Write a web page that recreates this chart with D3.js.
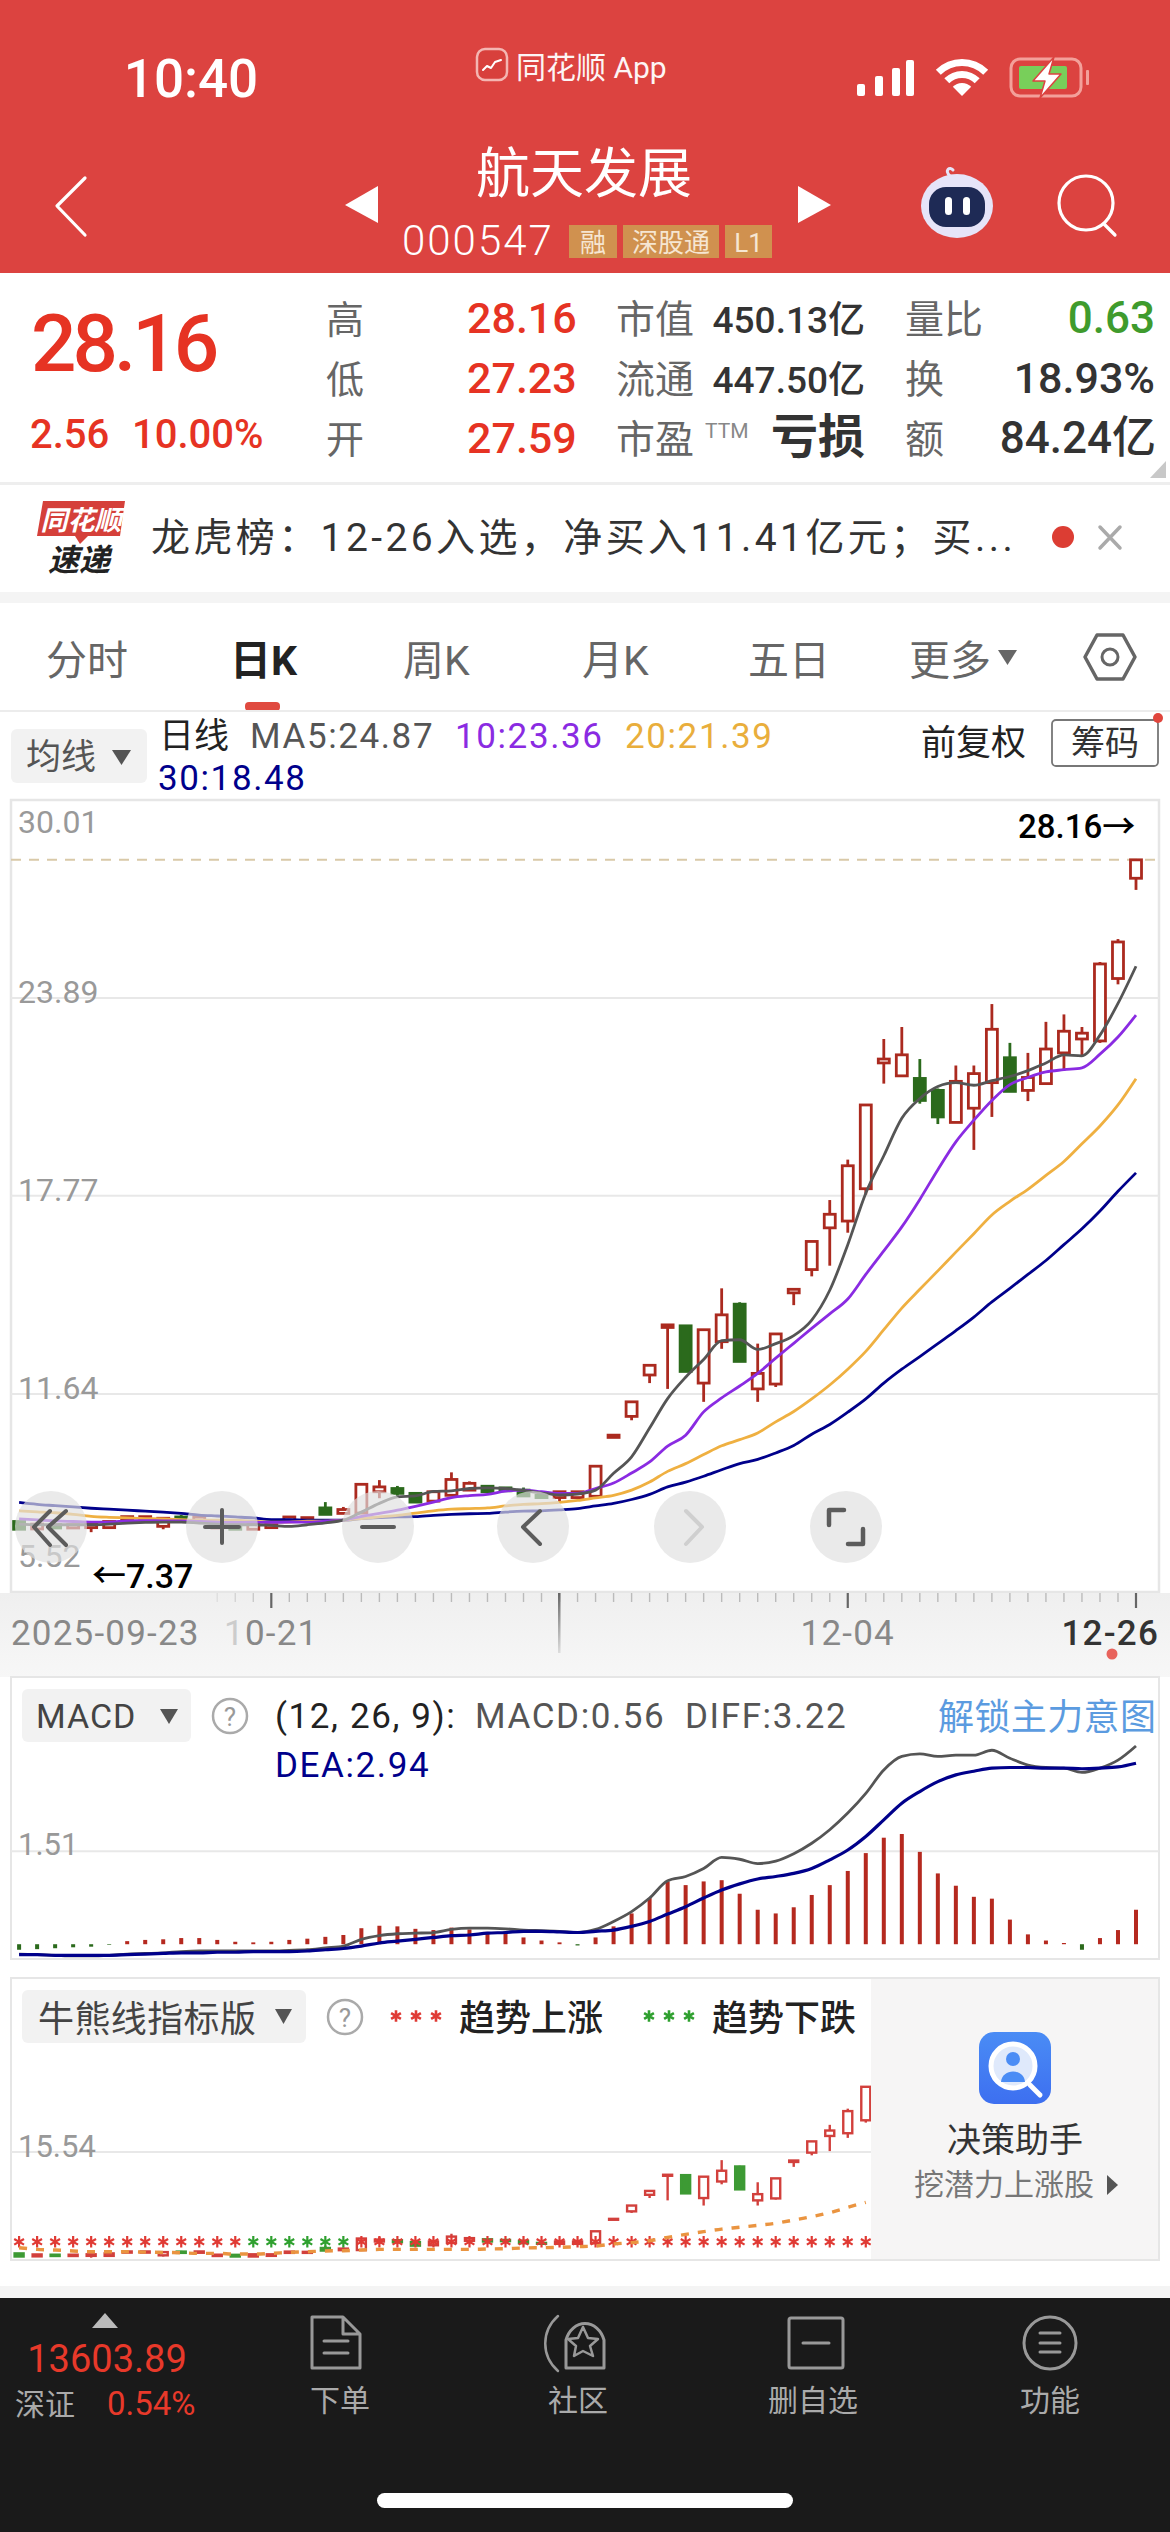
<!DOCTYPE html>
<html>
<head>
<meta charset="utf-8">
<script src="https://cdn.jsdelivr.net/npm/d3@7"></script>
<style>
html,body{margin:0;padding:0;background:#fff;}
svg{display:block;font-family:Roboto,"Noto Sans CJK SC",sans-serif;}
</style>
</head>
<body>
<svg id="chart" width="1170" height="2532"></svg>
<script>
var tradeDates = ["09-23","09-24","09-25","09-26","09-29","09-30","10-09","10-10","10-13","10-14","10-15","10-16","10-17","10-20","10-21","10-22","10-23","10-24","10-27","10-28","10-29","10-30","10-31","11-03","11-04","11-05","11-06","11-07","11-10","11-11","11-12","11-13","11-14","11-17","11-18","11-19","11-20","11-21","11-24","11-25","11-26","11-27","11-28","12-01","12-02","12-03","12-04","12-05","12-08","12-09","12-10","12-11","12-12","12-15","12-16","12-17","12-18","12-19","12-22","12-23","12-24","12-25","12-26"];

var opens = [7.70,7.47,7.60,7.50,7.51,7.51,7.76,7.76,7.55,7.84,7.75,7.50,7.59,7.46,7.51,7.74,7.74,8.12,7.95,7.96,8.62,8.72,8.57,8.33,8.51,8.67,8.79,8.74,8.67,8.51,8.44,8.44,8.48,10.30,10.95,12.23,13.70,13.75,11.98,13.26,14.42,11.80,11.95,14.77,15.49,16.78,16.99,17.99,21.88,21.48,21.40,21.03,20.04,20.48,21.27,22.04,21.03,21.24,22.19,22.62,22.56,24.49,27.59];
var closes = [7.46,7.62,7.50,7.60,7.63,7.70,7.85,7.85,7.80,7.74,7.85,7.60,7.46,7.63,7.63,7.84,7.82,7.92,8.07,8.85,8.77,8.57,8.30,8.62,9.00,8.88,8.62,8.65,8.49,8.44,8.62,8.62,9.41,10.37,11.40,12.53,13.78,12.34,13.63,14.09,12.65,12.28,13.50,14.88,16.36,17.20,18.70,20.58,22.00,22.13,20.72,20.21,21.31,21.55,22.92,21.00,21.43,22.31,22.86,22.80,24.94,25.62,28.16];
var highs = [7.70,7.62,7.60,7.60,7.63,7.70,7.85,7.85,7.80,7.90,7.85,7.60,7.59,7.63,7.63,7.84,7.82,8.30,8.15,8.85,8.98,8.80,8.60,8.62,9.22,8.94,8.79,8.74,8.75,8.55,8.62,8.62,9.41,10.37,11.40,12.53,13.78,13.75,13.63,14.91,14.48,13.20,13.50,14.88,16.36,17.64,18.89,20.58,22.62,22.99,22.00,21.09,21.80,21.80,23.70,22.50,22.19,23.15,23.38,22.99,25.00,25.71,28.16];
var lows = [7.46,7.47,7.50,7.50,7.37,7.51,7.76,7.76,7.46,7.74,7.75,7.50,7.46,7.46,7.51,7.74,7.74,7.92,7.95,7.96,8.42,8.50,8.30,8.33,8.51,8.67,8.62,8.65,8.49,8.42,8.33,8.44,8.48,10.30,10.83,11.98,11.80,12.34,11.40,13.04,12.65,11.40,11.86,14.39,15.28,15.61,16.63,17.81,21.24,21.48,20.62,19.99,20.04,19.19,20.21,21.00,20.70,21.21,21.64,22.07,22.50,24.31,27.23];

var ma5 = [7.62,7.60,7.60,7.60,7.60,7.62,7.65,7.67,7.68,7.68,7.65,7.62,7.60,7.60,7.58,7.55,7.60,7.66,7.74,7.99,8.26,8.46,8.49,8.63,8.65,8.72,8.74,8.72,8.66,8.58,8.52,8.55,8.67,9.19,9.70,10.59,11.50,12.16,12.71,13.29,13.32,13.02,13.20,13.45,13.93,14.85,16.26,17.85,19.01,20.17,20.78,21.15,21.27,21.19,21.33,21.46,21.64,21.88,22.13,22.10,22.74,23.72,24.87];
var ma10 = [7.78,7.75,7.72,7.70,7.68,7.68,7.72,7.73,7.72,7.72,7.70,7.68,7.67,7.68,7.67,7.68,7.68,7.71,7.74,7.86,7.95,8.05,8.17,8.30,8.44,8.50,8.54,8.64,8.67,8.62,8.57,8.57,8.72,8.89,9.20,9.54,10.03,10.37,11.09,11.52,11.89,12.28,12.75,13.21,13.67,14.12,14.58,15.34,16.07,16.81,17.66,18.58,19.44,20.11,20.72,21.21,21.43,21.60,21.67,21.73,22.15,22.68,23.36];
var ma20 = [8.03,8.00,7.97,7.92,7.86,7.83,7.81,7.79,7.78,7.76,7.74,7.74,7.74,7.71,7.68,7.68,7.71,7.71,7.74,7.79,7.84,7.89,7.96,8.03,8.08,8.10,8.12,8.18,8.23,8.25,8.29,8.35,8.43,8.51,8.67,8.92,9.25,9.49,9.77,10.04,10.23,10.44,10.78,11.10,11.49,11.92,12.41,12.96,13.63,14.30,14.88,15.45,16.03,16.60,17.18,17.60,17.97,18.40,18.83,19.38,19.93,20.58,21.39];
var ma30 = [8.29,8.23,8.19,8.15,8.11,8.08,8.05,8.02,7.99,7.95,7.90,7.87,7.84,7.81,7.76,7.76,7.74,7.74,7.74,7.79,7.82,7.84,7.85,7.89,7.92,7.94,7.95,7.99,8.02,8.03,8.06,8.10,8.18,8.26,8.38,8.54,8.77,8.92,9.10,9.30,9.49,9.62,9.82,10.05,10.40,10.70,11.08,11.49,11.98,12.41,12.80,13.20,13.60,14.02,14.49,14.91,15.34,15.77,16.26,16.75,17.30,17.91,18.48];

var macdBars = [-0.09,-0.08,-0.065,-0.05,-0.04,-0.01,0.05,0.07,0.08,0.10,0.10,0.07,0.04,0.03,0.04,0.07,0.09,0.12,0.15,0.26,0.30,0.29,0.25,0.23,0.27,0.24,0.20,0.18,0.11,0.06,0.03,-0.02,0.11,0.29,0.50,0.75,1.02,0.96,1.02,1.04,0.82,0.56,0.50,0.60,0.80,0.96,1.19,1.48,1.73,1.79,1.50,1.15,0.95,0.77,0.74,0.40,0.16,0.06,0.02,-0.09,0.10,0.23,0.56];
var diffLine = [-0.16,-0.17,-0.18,-0.19,-0.19,-0.18,-0.16,-0.15,-0.14,-0.12,-0.11,-0.11,-0.11,-0.11,-0.11,-0.10,-0.09,-0.06,-0.03,0.08,0.14,0.17,0.18,0.19,0.24,0.26,0.26,0.25,0.23,0.22,0.21,0.19,0.24,0.37,0.53,0.75,1.03,1.10,1.23,1.41,1.38,1.31,1.35,1.47,1.64,1.86,2.13,2.45,2.83,3.05,3.09,3.05,3.07,3.07,3.15,3.02,2.91,2.87,2.86,2.79,2.86,2.99,3.22];
var deaLine = [-0.17,-0.17,-0.18,-0.18,-0.18,-0.18,-0.17,-0.16,-0.15,-0.14,-0.14,-0.13,-0.13,-0.12,-0.12,-0.12,-0.11,-0.09,-0.07,-0.03,0.02,0.05,0.08,0.11,0.14,0.15,0.18,0.19,0.21,0.21,0.20,0.19,0.21,0.23,0.29,0.37,0.49,0.61,0.75,0.88,0.98,1.06,1.10,1.15,1.23,1.37,1.53,1.75,2.02,2.29,2.48,2.64,2.75,2.81,2.86,2.87,2.87,2.86,2.86,2.85,2.86,2.88,2.94];

var bullLine = [8.14,8.01,7.96,7.89,7.83,7.83,7.83,7.80,7.78,7.75,7.70,7.70,7.65,7.65,7.70,7.78,7.83,7.89,7.91,7.96,8.01,8.01,8.01,8.01,8.01,8.01,8.04,8.06,8.12,8.14,8.17,8.22,8.27,8.43,8.53,8.68,8.94,9.17,9.38,9.58,9.72,9.87,10.03,10.28,10.54,10.85,11.26,11.65];
var trendUp = [1,1,1,1,1,1,1,1,1,1,1,1,1,0,0,0,0,0,0,1,1,1,1,1,1,1,1,1,1,1,1,1,1,1,1,1,1,1,1,1,1,1,1,1,1,1,1,1];
var trendLevel = 8.6;

var priceTicks = [30.01,23.89,17.77,11.64,5.52];
var macdTicks = [1.51];
var bullTicks = [15.54];
var majorTickDates = ["10-21","12-04","12-26"];
var lastClose = 28.16, periodLow = 7.37;

var RED = "#ab2a1f", GREEN = "#2b6a1c", DATE_FONT = 35;
var svg = d3.select("#chart");

var x = d3.scalePoint().domain(tradeDates).range([19.1, 1136]);
var yPrice = d3.scaleLinear().domain([5.52, 30.01]).range([1592, 800]);
var yMacd = d3.scaleLinear().domain([-0.24, 4.34]).range([1959, 1677]);
var yBull = d3.scaleLinear().domain([7.19, 28.99]).range([2260, 1978]);

var candles = tradeDates.map(function (d, i) {
  return {date: d, open: opens[i], close: closes[i], high: highs[i], low: lows[i]};
});

function txt(str, px, py, size, fill, o) {
  o = o || {};
  return svg.append("text").attr("x", px).attr("y", py)
    .attr("font-size", size).attr("fill", fill)
    .attr("text-anchor", o.anchor || "start")
    .attr("font-weight", o.weight || 400)
    .attr("font-style", o.style || null)
    .attr("letter-spacing", o.spacing || null)
    .text(str);
}
function box(px, py, w, h, fill, rx, stroke, sw) {
  return svg.append("rect").attr("x", px).attr("y", py).attr("width", w).attr("height", h)
    .attr("rx", rx || 0).attr("fill", fill).attr("stroke", stroke || "none").attr("stroke-width", sw || 0);
}
function path(d, fill, stroke, sw) {
  return svg.append("path").attr("d", d).attr("fill", fill || "none")
    .attr("stroke", stroke || "none").attr("stroke-width", sw || 0)
    .attr("stroke-linecap", "round").attr("stroke-linejoin", "round");
}
function drawLine(values, yScale, color, width) {
  return svg.append("path").datum(values)
    .attr("fill", "none").attr("stroke", color).attr("stroke-width", width)
    .attr("stroke-linejoin", "round")
    .attr("d", d3.line().x(function (d, i) { return x(tradeDates[i]); }).y(function (d) { return yScale(d); }).curve(d3.curveMonotoneX));
}
function drawCandles(rows, yScale, up, down, bw, sw) {
  var g = svg.append("g");
  var sel = g.selectAll("g").data(rows).join("g");
  sel.append("line")
    .attr("x1", function (d) { return x(d.date); }).attr("x2", function (d) { return x(d.date); })
    .attr("y1", function (d) { return yScale(d.high); }).attr("y2", function (d) { return yScale(d.low); })
    .attr("stroke", function (d) { return d.close >= d.open ? up : down; }).attr("stroke-width", sw);
  sel.append("rect")
    .attr("x", function (d) { return x(d.date) - bw / 2; })
    .attr("width", bw)
    .attr("y", function (d) { return yScale(Math.max(d.open, d.close)); })
    .attr("height", function (d) { return Math.abs(yScale(d.open) - yScale(d.close)); })
    .attr("fill", function (d) { return d.close >= d.open ? "#fff" : down; })
    .attr("stroke", function (d) { return d.close >= d.open ? up : down; })
    .attr("stroke-width", sw);
}

// header
box(0, 0, 1170, 273, "#dc4340");
txt("10:40", 191, 97, 53, "#fff", {anchor: "middle", weight: 500});
box(477, 49, 30, 31, "#d8403c", 8, "#f4b6b2", 2.5);
path("M483 70 L487 66 L491 68 L495 62 L501 60", "none", "#fff", 2);
txt("同花顺 App", 516, 78, 30, "#fff").attr("opacity", 0.95);
[[857, 84, 8], [875, 76, 8], [892, 68, 8], [906, 60, 8]].forEach(function (b) { box(b[0], b[1], b[2], 96 - b[1], "#fff", 2); });
[[0, 13], [18, 25], [30, 37]].forEach(function (r) {
  path(d3.arc().innerRadius(r[0]).outerRadius(r[1]).startAngle(-Math.PI / 4).endAngle(Math.PI / 4)(), "#fff")
    .attr("transform", "translate(962,96)");
});
box(1011, 59, 70, 37, "none", 9, "#f3a09a", 3);
box(1019, 66, 48, 23, "#78cf5a", 2);
box(1086, 70, 3, 15, "#f3a09a", 1);
path("M1054 57 L1033 81 L1045 81 L1040 98 L1061 74 L1049 74 Z", "#fff", "#dc4340", 1.5);
txt("航天发展", 584, 193, 54, "#fff", {anchor: "middle"});
path("M85 178 L57 206 L85 235", "none", "#fff", 3.2);
path("M378 186 L345 205 L378 223 Z", "#fff");
path("M798 186 L831 205 L798 223 Z", "#fff");
txt("000547", 402, 255, 42, "#fff", {weight: 300, spacing: 2});
[[569, 48, "融"], [623, 96, "深股通"], [725, 47, "L1"]].forEach(function (t) {
  box(t[0], 225, t[1], 33, "#d0914f");
  txt(t[2], t[0] + t[1] / 2, 252, 26, "#f6e6d2", {anchor: "middle"});
});
svg.append("ellipse").attr("cx", 957).attr("cy", 206).attr("rx", 36).attr("ry", 32).attr("fill", "#e6e4f8");
path("M950 176 C944 170 950 166 953 170", "none", "#e6e4f8", 3);
box(929, 187, 56, 40, "#1e2a55", 17);
box(945, 197, 7, 18, "#fff", 3.5);
box(963, 197, 7, 18, "#fff", 3.5);
svg.append("circle").attr("cx", 1086).attr("cy", 203).attr("r", 27).attr("fill", "none").attr("stroke", "#fff").attr("stroke-width", 3.2);
path("M1104 224 L1115 235", "none", "#fff", 3.2);

// quote block
txt("28.16", 31, 371, 80, "#e63323", {weight: 500, spacing: -4});
txt("2.56", 30, 448, 40, "#e63323", {weight: 500});
txt("10.00%", 132, 448, 40, "#e63323", {weight: 500});
var quoteRows = [333, 393, 453];
["高", "低", "开"].forEach(function (s, i) { txt(s, 326, quoteRows[i], 38, "#666"); });
["28.16", "27.23", "27.59"].forEach(function (s, i) { txt(s, 467, quoteRows[i], 43, "#e63323", {weight: 500}); });
["市值", "流通", "市盈"].forEach(function (s, i) { txt(s, 616, quoteRows[i], 39, "#666"); });
txt("450.13亿", 865, 333, 37, "#333", {anchor: "end", weight: 500});
txt("447.50亿", 865, 393, 37, "#333", {anchor: "end", weight: 500});
txt("TTM", 705, 438, 21, "#888");
txt("亏损", 865, 453, 47, "#333", {anchor: "end", weight: 700});
["量比", "换", "额"].forEach(function (s, i) { txt(s, 905, quoteRows[i], 39, "#666"); });
txt("0.63", 1155, 333, 44, "#3f9b2d", {anchor: "end", weight: 500});
txt("18.93%", 1155, 393, 43, "#333", {anchor: "end", weight: 500});
txt("84.24亿", 1156, 453, 44, "#333", {anchor: "end", weight: 500});
path("M1166 461 L1166 478 L1150 478 Z", "#c8c8c8");
box(0, 482, 1170, 3, "#eeeeee");

// news row
path("M43 501 L125 501 L120 536 L88 536 L80 544 L75 536 L37 536 Z", "#d5403a");
txt("同花顺", 81, 530, 27, "#fff", {anchor: "middle", weight: 700, style: "italic"});
txt("速递", 79, 571, 31, "#222", {anchor: "middle", weight: 700, style: "italic"});
txt("龙虎榜：12-26入选，净买入11.41亿元；买...", 151, 551, 39, "#333", {spacing: 3.4});
svg.append("circle").attr("cx", 1063).attr("cy", 537).attr("r", 11).attr("fill", "#dc3d33");
path("M1100 527 L1120 548 M1120 527 L1100 548", "none", "#aaa", 3.5);
box(0, 592, 1170, 11, "#f4f4f4");

// tabs
[["分时", 46], ["周K", 403], ["月K", 582], ["五日", 748], ["更多", 909]].forEach(function (t) { txt(t[0], t[1], 675, 41, "#666"); });
txt("日K", 230, 675, 41, "#222", {weight: 700});
path("M998 650 L1017 650 L1007.5 665 Z", "#666");
path("M1097 635 L1123 635 L1135 657 L1123 679 L1097 679 L1085 657 Z", "none", "#666", 3.5);
svg.append("circle").attr("cx", 1110).attr("cy", 657).attr("r", 8).attr("fill", "none").attr("stroke", "#666").attr("stroke-width", 3);
box(245, 702, 35, 9, "#e04a40", 4);
box(0, 710, 1170, 2, "#ececec");

// MA legend
box(11, 729, 136, 54, "#f2f2f2", 6);
txt("均线", 26, 769, 35, "#555");
path("M112 750 L131 750 L121.5 765 Z", "#555");
txt("日线", 159, 748, 35, "#222");
txt("MA5:24.87", 250, 748, 35, "#555", {spacing: 1.6});
txt("10:23.36", 455, 748, 35, "#8a2be2", {spacing: 1.6});
txt("20:21.39", 625, 748, 35, "#e9ae3c", {spacing: 1.6});
txt("30:18.48", 158, 790, 35, "#00008b", {spacing: 1.6});
txt("前复权", 921, 755, 35, "#222");
box(1052, 720, 106, 46, "#fff", 4, "#777", 1.8);
txt("筹码", 1105, 755, 34, "#333", {anchor: "middle"});
svg.append("circle").attr("cx", 1158).attr("cy", 718).attr("r", 5).attr("fill", "#e0453c");

// main chart
box(11, 800, 1148, 792, "#fff", 0, "#e6e6e6", 2.5);
svg.selectAll(".price-grid").data(priceTicks.slice(1, 4)).join("line")
  .attr("x1", 11).attr("x2", 1159)
  .attr("y1", function (d) { return yPrice(d); }).attr("y2", function (d) { return yPrice(d); })
  .attr("stroke", "#e8e8e8").attr("stroke-width", 2);
svg.selectAll(".price-label").data(priceTicks).join("text")
  .attr("x", 18).attr("y", function (d, i) { return i === 0 ? 833 : i === 4 ? 1567 : yPrice(d) + 5; })
  .attr("font-size", 32).attr("fill", "#999")
  .text(function (d) { return d.toFixed(2); });
svg.append("line").attr("x1", 11).attr("x2", 1159)
  .attr("y1", yPrice(lastClose)).attr("y2", yPrice(lastClose))
  .attr("stroke", "#d9c9a8").attr("stroke-width", 2).attr("stroke-dasharray", "10 8");
drawCandles(candles, yPrice, RED, GREEN, 11, 2.8);
drawLine(ma30, yPrice, "#00008b", 2.8);
drawLine(ma20, yPrice, "#efb041", 2.8);
drawLine(ma10, yPrice, "#8a2be2", 2.8);
drawLine(ma5, yPrice, "#555555", 2.8);
txt(lastClose.toFixed(2) + "→", 1018, 838, 33, "#000", {weight: 500});
txt("←" + periodLow.toFixed(2), 92, 1588, 34, "#000", {weight: 500});

// chart buttons
[51, 222, 378, 533, 690, 846].forEach(function (cx) {
  svg.append("circle").attr("cx", cx).attr("cy", 1527).attr("r", 36).attr("fill", "rgba(224,224,224,0.67)");
});
path("M50 1511 L34 1527 L50 1545 M66 1511 L48 1527 L66 1545", "none", "#5c5c5c", 4);
path("M222 1510 L222 1543 M205 1527 L239 1527", "none", "#5c5c5c", 4);
path("M362 1527 L394 1527", "none", "#5c5c5c", 4);
path("M540 1511 L523 1527 L540 1544", "none", "#5c5c5c", 4);
path("M686 1511 L702 1527 L686 1544", "none", "#cfcfcf", 4);
path("M829 1525 L829 1510 L844 1510 M863 1529 L863 1544 L848 1544", "none", "#5c5c5c", 4.5);

// date strip
var strip = svg.append("defs").append("linearGradient").attr("id", "stripFade").attr("x1", 0).attr("x2", 0).attr("y1", 0).attr("y2", 1);
strip.append("stop").attr("offset", 0).attr("stop-color", "#efefef");
strip.append("stop").attr("offset", 1).attr("stop-color", "#f7f7f7");
box(0, 1593, 1170, 84, "url(#stripFade)");
var centre = svg.select("defs").append("linearGradient").attr("id", "centreFade").attr("x1", 0).attr("x2", 0).attr("y1", 0).attr("y2", 1);
centre.append("stop").attr("offset", 0).attr("stop-color", "#666");
centre.append("stop").attr("offset", 1).attr("stop-color", "#ddd");
svg.selectAll(".strip-tick").data(tradeDates.slice(11)).join("line")
  .attr("x1", function (d) { return x(d); }).attr("x2", function (d) { return x(d); })
  .attr("y1", 1593)
  .attr("y2", function (d) { return majorTickDates.indexOf(d) >= 0 ? 1608 : 1602; })
  .attr("stroke", function (d) { return majorTickDates.indexOf(d) >= 0 ? "#666" : "#bbb"; })
  .attr("stroke-width", function (d) { return majorTickDates.indexOf(d) >= 0 ? 2.2 : 1.4; })
  .attr("opacity", function (d, i) { return i < 3 ? 0.3 + i * 0.2 : 1; });
box(558, 1593, 2.5, 60, "url(#centreFade)");
txt("2025-09-23", 11, 1645, DATE_FONT, "#888", {spacing: 1.2});
var oct = txt("", x("10-21"), 1645, DATE_FONT, "#888", {anchor: "middle", spacing: 1.2});
oct.append("tspan").attr("fill", "#ccc").text("1");
oct.append("tspan").text("0-21");
txt("12-04", x("12-04"), 1645, DATE_FONT, "#888", {anchor: "middle", spacing: 1.2});
txt("12-26", 1159, 1645, DATE_FONT, "#333", {anchor: "end", weight: 500, spacing: 1.2});
svg.append("circle").attr("cx", 1112).attr("cy", 1654).attr("r", 5.5).attr("fill", "#e8635c");

// macd panel
box(11, 1677, 1148, 282, "#fff", 0, "#e6e6e6", 2);
svg.selectAll(".macd-grid").data(macdTicks).join("line")
  .attr("x1", 11).attr("x2", 1159)
  .attr("y1", function (d) { return yMacd(d); }).attr("y2", function (d) { return yMacd(d); })
  .attr("stroke", "#e8e8e8").attr("stroke-width", 2);
svg.selectAll(".macd-label").data(macdTicks).join("text")
  .attr("x", 18).attr("y", function (d) { return yMacd(d) + 4; })
  .attr("font-size", 31).attr("fill", "#999").text(function (d) { return d.toFixed(2); });
svg.selectAll(".macd-bar").data(macdBars).join("rect")
  .attr("x", function (d, i) { return x(tradeDates[i]) - 2; }).attr("width", 4)
  .attr("y", function (d) { return yMacd(Math.max(d, 0)); })
  .attr("height", function (d) { return Math.abs(yMacd(d) - yMacd(0)); })
  .attr("fill", function (d) { return d >= 0 ? "#b5291f" : GREEN; });
drawLine(diffLine, yMacd, "#555555", 2.8);
drawLine(deaLine, yMacd, "#00008b", 3.2);
box(22, 1689, 169, 53, "#f2f2f2", 6);
txt("MACD", 36, 1728, 34, "#444", {spacing: 1});
path("M160 1709 L178 1709 L169 1724 Z", "#555");
svg.append("circle").attr("cx", 230).attr("cy", 1716).attr("r", 17).attr("fill", "none").attr("stroke", "#aaa").attr("stroke-width", 2.5);
txt("?", 230, 1726, 26, "#999", {anchor: "middle"});
txt("(12, 26, 9):", 275, 1728, 35, "#222", {spacing: 1.6});
txt("MACD:0.56", 475, 1728, 35, "#555", {spacing: 1.6});
txt("DIFF:3.22", 685, 1728, 35, "#555", {spacing: 1.6});
txt("解锁主力意图", 938, 1730, 36, "#5b9be0", {spacing: 0.4});
txt("DEA:2.94", 275, 1777, 35, "#00008b", {spacing: 1.6});

// bull bear panel
box(11, 1978, 1148, 282, "#fff", 0, "#e6e6e6", 2);
svg.selectAll(".bull-grid").data(bullTicks).join("line")
  .attr("x1", 11).attr("x2", 871)
  .attr("y1", function (d) { return yBull(d); }).attr("y2", function (d) { return yBull(d); })
  .attr("stroke", "#e8e8e8").attr("stroke-width", 2);
svg.selectAll(".bull-label").data(bullTicks).join("text")
  .attr("x", 18).attr("y", function (d) { return yBull(d) + 5; })
  .attr("font-size", 31).attr("fill", "#999").text(function (d) { return d.toFixed(2); });
drawCandles(candles.slice(0, 48), yBull, "#d2403c", "#3d9a34", 9, 2.4);
var star = d3.symbol().type(d3.symbolAsterisk).size(90);
svg.selectAll(".trend-mark").data(trendUp).join("path")
  .attr("d", star())
  .attr("transform", function (d, i) { return "translate(" + x(tradeDates[i]) + "," + yBull(trendLevel) + ")"; })
  .attr("fill", "none").attr("stroke-width", 2.2)
  .attr("stroke", function (d) { return d ? "#e03a34" : "#2fa02f"; });
drawLine(bullLine, yBull, "#ea9440", 3.4).attr("stroke-dasharray", "8 9");
box(22, 1990, 284, 53, "#f2f2f2", 6);
txt("牛熊线指标版", 38, 2032, 36, "#444", {spacing: 0.4});
path("M275 2009 L292 2009 L283.5 2024 Z", "#555");
svg.append("circle").attr("cx", 345).attr("cy", 2017).attr("r", 17).attr("fill", "none").attr("stroke", "#aaa").attr("stroke-width", 2.5);
txt("?", 345, 2027, 26, "#999", {anchor: "middle"});
[[396, "#e03a34"], [416, "#e03a34"], [436, "#e03a34"], [649, "#2fa02f"], [669, "#2fa02f"], [689, "#2fa02f"]].forEach(function (m) {
  svg.append("path").attr("d", star()).attr("transform", "translate(" + m[0] + ",2016)")
    .attr("fill", "none").attr("stroke", m[1]).attr("stroke-width", 2.6);
});
txt("趋势上涨", 459, 2031, 36, "#222", {weight: 500});
txt("趋势下跌", 712, 2031, 36, "#222", {weight: 500});

// helper card over the panel
box(871, 1979, 287, 280, "#f6f5f5");
var iconFill = svg.select("defs").append("linearGradient").attr("id", "iconFill").attr("x1", 0).attr("x2", 0).attr("y1", 0).attr("y2", 1);
iconFill.append("stop").attr("offset", 0).attr("stop-color", "#4a8cf5");
iconFill.append("stop").attr("offset", 1).attr("stop-color", "#3d6ff0");
box(979, 2032, 72, 72, "url(#iconFill)", 15);
svg.append("circle").attr("cx", 1013).attr("cy", 2066).attr("r", 22).attr("fill", "#dfe9fb").attr("stroke", "#fff").attr("stroke-width", 5);
svg.append("circle").attr("cx", 1013).attr("cy", 2059).attr("r", 7).attr("fill", "#4a8cf5");
path("M1001 2082 C1002 2068 1024 2068 1025 2082 Z", "#4a8cf5");
path("M1030 2085 L1040 2095", "none", "#fff", 5);
txt("决策助手", 1015, 2152, 34, "#333", {anchor: "middle"});
txt("挖潜力上涨股", 914, 2195, 30, "#777");
path("M1107 2175 L1118 2185 L1107 2195 Z", "#555");

// bottom bar
box(0, 2286, 1170, 12, "#f4f4f4");
box(0, 2298, 1170, 234, "#1a1a1a");
path("M105 2313 L118 2328 L92 2328 Z", "#bbb");
txt("13603.89", 107, 2372, 38, "#e8392a", {anchor: "middle"});
txt("深证", 15, 2415, 30, "#aaa");
txt("0.54%", 107, 2415, 33, "#e8392a");
path("M312 2317 L343 2317 L360 2334 L360 2368 L312 2368 Z M343 2317 L343 2334 L360 2334", "none", "#999", 3);
path("M324 2341 L348 2341 M324 2353 L348 2353", "none", "#999", 3);
txt("下单", 340, 2411, 30, "#aaa", {anchor: "middle"});
path("M558 2316 C541 2331 541 2356 558 2371", "none", "#999", 2.5);
path("M566 2368 L604 2368 L604 2340 A20 24 0 0 0 566 2340 Z", "none", "#999", 3);
path("M583 2327 L588 2338 L598 2339 L590 2346 L593 2356 L583 2351 L574 2356 L576 2346 L568 2339 L578 2338 Z", "none", "#999", 2.5);
txt("社区", 578, 2411, 30, "#aaa", {anchor: "middle"});
box(789, 2318, 54, 50, "none", 2, "#999", 3);
path("M803 2343 L829 2343", "none", "#999", 3);
txt("删自选", 813, 2411, 30, "#aaa", {anchor: "middle"});
svg.append("ellipse").attr("cx", 1050).attr("cy", 2343).attr("rx", 26).attr("ry", 26).attr("fill", "none").attr("stroke", "#999").attr("stroke-width", 3);
path("M1040 2333 L1060 2333 M1040 2343 L1060 2343 M1040 2352 L1060 2352", "none", "#999", 3);
txt("功能", 1050, 2411, 30, "#aaa", {anchor: "middle"});
box(377, 2493, 416, 15, "#fff", 7.5);
</script>
</body>
</html>
